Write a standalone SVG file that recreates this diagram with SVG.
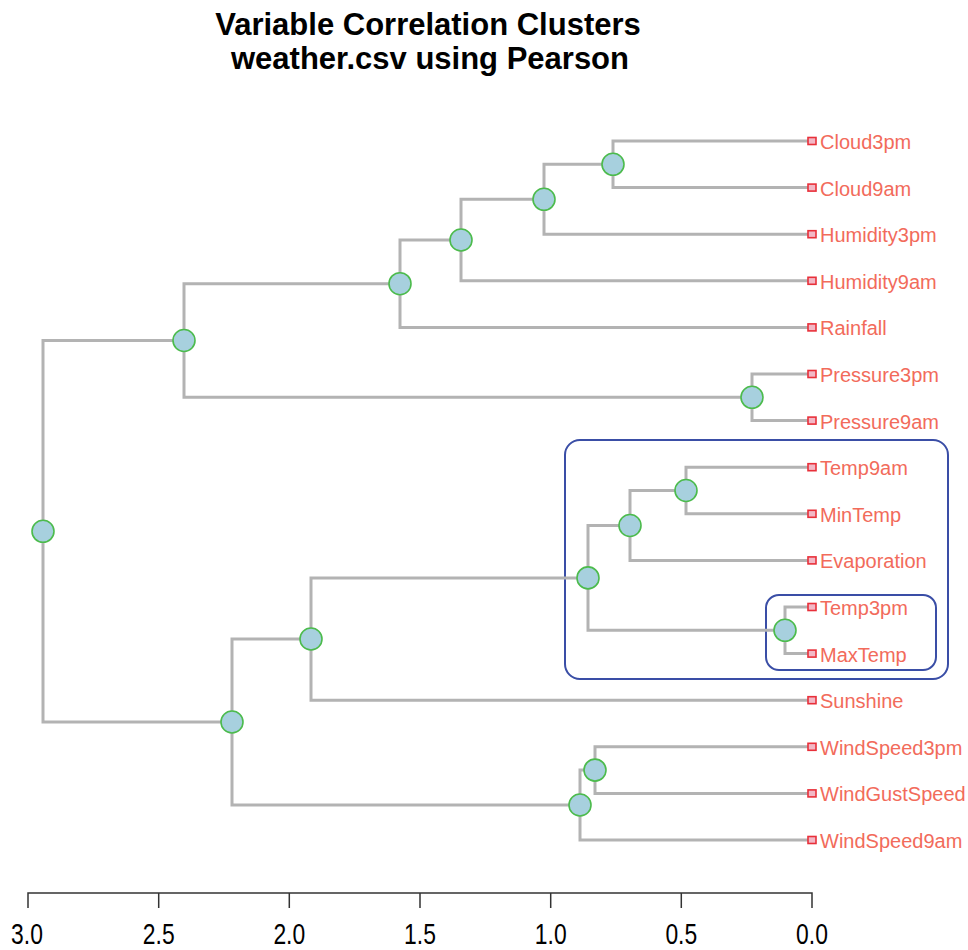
<svg xmlns="http://www.w3.org/2000/svg" width="968" height="950" viewBox="0 0 968 950">
<style>
.title{font-family:"Liberation Sans",Arial,sans-serif;font-weight:bold;font-size:31px;fill:#000;text-anchor:middle}
.lbl{font-family:"Liberation Sans",Arial,sans-serif;font-size:20px;fill:#f26b5b}
.ax{font-family:"Liberation Sans",Arial,sans-serif;font-size:26px;fill:#000;text-anchor:middle}
.br{fill:none;stroke:#b3b3b3;stroke-width:3}
.nd{fill:#a7d0de;stroke:#4cbb4c;stroke-width:1.6}
.lf{fill:#f2b8c6;stroke:#e8303a;stroke-width:1.6}
.box{fill:none;stroke:#3a4ea6;stroke-width:2}
</style>
<rect width="968" height="950" fill="#fff"/>
<g id="title">
<text class="title" x="428" y="35">Variable Correlation Clusters</text>
<text class="title" x="430" y="69">weather.csv using Pearson</text>
</g>
<g id="clusters">
<rect class="box" x="565" y="440" width="383" height="239" rx="15"/>
<rect class="box" x="766" y="595" width="170" height="75" rx="13"/>
</g>
<g id="connectors">
<path class="br" d="M812,141H613V187.6H812"/>
<path class="br" d="M613,164.3H544V234.2H812"/>
<path class="br" d="M544,199.3H461V280.8H812"/>
<path class="br" d="M461,240H400V327.4H812"/>
<path class="br" d="M812,374H752V420.6H812"/>
<path class="br" d="M400,283.7H184V397.3H752"/>
<path class="br" d="M812,467.2H686V513.8H812"/>
<path class="br" d="M686,490.5H630V560.4H812"/>
<path class="br" d="M812,607H785V653.6H812"/>
<path class="br" d="M630,525.5H588V630.3H785"/>
<path class="br" d="M588,577.9H311V700.2H812"/>
<path class="br" d="M812,746.8H595V793.4H812"/>
<path class="br" d="M595,770.1H580V840H812"/>
<path class="br" d="M311,639H232V805H580"/>
<path class="br" d="M184,340.5H43V722H232"/>
</g>
<g id="nodes">
<circle id="nA" class="nd" cx="613" cy="164.3" r="11"/>
<circle id="nB" class="nd" cx="544" cy="199.3" r="11"/>
<circle id="nC" class="nd" cx="461" cy="240" r="11"/>
<circle id="nD" class="nd" cx="400" cy="283.7" r="11"/>
<circle id="nE" class="nd" cx="752" cy="397.3" r="11"/>
<circle id="nF" class="nd" cx="184" cy="340.5" r="11"/>
<circle id="nG" class="nd" cx="686" cy="490.5" r="11"/>
<circle id="nH" class="nd" cx="630" cy="525.5" r="11"/>
<circle id="nI" class="nd" cx="785" cy="630.3" r="11"/>
<circle id="nJ" class="nd" cx="588" cy="577.9" r="11"/>
<circle id="nK" class="nd" cx="311" cy="639" r="11"/>
<circle id="nL" class="nd" cx="595" cy="770.1" r="11"/>
<circle id="nM" class="nd" cx="580" cy="805" r="11"/>
<circle id="nN" class="nd" cx="232" cy="722" r="11"/>
<circle id="nRoot" class="nd" cx="43" cy="531.3" r="11"/>
</g>
<g id="leaves">
<g id="Cloud3pm"><rect class="lf" x="808" y="137.5" width="8" height="7"/><text class="lbl" x="820" y="149">Cloud3pm</text></g>
<g id="Cloud9am"><rect class="lf" x="808" y="184.1" width="8" height="7"/><text class="lbl" x="820" y="195.6">Cloud9am</text></g>
<g id="Humidity3pm"><rect class="lf" x="808" y="230.7" width="8" height="7"/><text class="lbl" x="820" y="242.2">Humidity3pm</text></g>
<g id="Humidity9am"><rect class="lf" x="808" y="277.3" width="8" height="7"/><text class="lbl" x="820" y="288.8">Humidity9am</text></g>
<g id="Rainfall"><rect class="lf" x="808" y="323.9" width="8" height="7"/><text class="lbl" x="820" y="335.4">Rainfall</text></g>
<g id="Pressure3pm"><rect class="lf" x="808" y="370.5" width="8" height="7"/><text class="lbl" x="820" y="382">Pressure3pm</text></g>
<g id="Pressure9am"><rect class="lf" x="808" y="417.1" width="8" height="7"/><text class="lbl" x="820" y="428.6">Pressure9am</text></g>
<g id="Temp9am"><rect class="lf" x="808" y="463.7" width="8" height="7"/><text class="lbl" x="820" y="475.2">Temp9am</text></g>
<g id="MinTemp"><rect class="lf" x="808" y="510.3" width="8" height="7"/><text class="lbl" x="820" y="521.8">MinTemp</text></g>
<g id="Evaporation"><rect class="lf" x="808" y="556.9" width="8" height="7"/><text class="lbl" x="820" y="568.4">Evaporation</text></g>
<g id="Temp3pm"><rect class="lf" x="808" y="603.5" width="8" height="7"/><text class="lbl" x="820" y="615">Temp3pm</text></g>
<g id="MaxTemp"><rect class="lf" x="808" y="650.1" width="8" height="7"/><text class="lbl" x="820" y="661.6">MaxTemp</text></g>
<g id="Sunshine"><rect class="lf" x="808" y="696.7" width="8" height="7"/><text class="lbl" x="820" y="708.2">Sunshine</text></g>
<g id="WindSpeed3pm"><rect class="lf" x="808" y="743.3" width="8" height="7"/><text class="lbl" x="820" y="754.8">WindSpeed3pm</text></g>
<g id="WindGustSpeed"><rect class="lf" x="808" y="789.9" width="8" height="7"/><text class="lbl" x="820" y="801.4">WindGustSpeed</text></g>
<g id="WindSpeed9am"><rect class="lf" x="808" y="836.5" width="8" height="7"/><text class="lbl" x="820" y="848">WindSpeed9am</text></g>
</g>
<g id="axis">
<path d="M28,908V893H812V908M158.7,893V908M289.3,893V908M420,893V908M550.7,893V908M681.3,893V908" fill="none" stroke="#333" stroke-width="1.5"/>
<text class="ax" transform="translate(27,944) scale(0.88,1.1)">3.0</text>
<text class="ax" transform="translate(158.7,944) scale(0.88,1.1)">2.5</text>
<text class="ax" transform="translate(289.3,944) scale(0.88,1.1)">2.0</text>
<text class="ax" transform="translate(420,944) scale(0.88,1.1)">1.5</text>
<text class="ax" transform="translate(550.7,944) scale(0.88,1.1)">1.0</text>
<text class="ax" transform="translate(681.3,944) scale(0.88,1.1)">0.5</text>
<text class="ax" transform="translate(812,944) scale(0.88,1.1)">0.0</text>
</g>
</svg>
